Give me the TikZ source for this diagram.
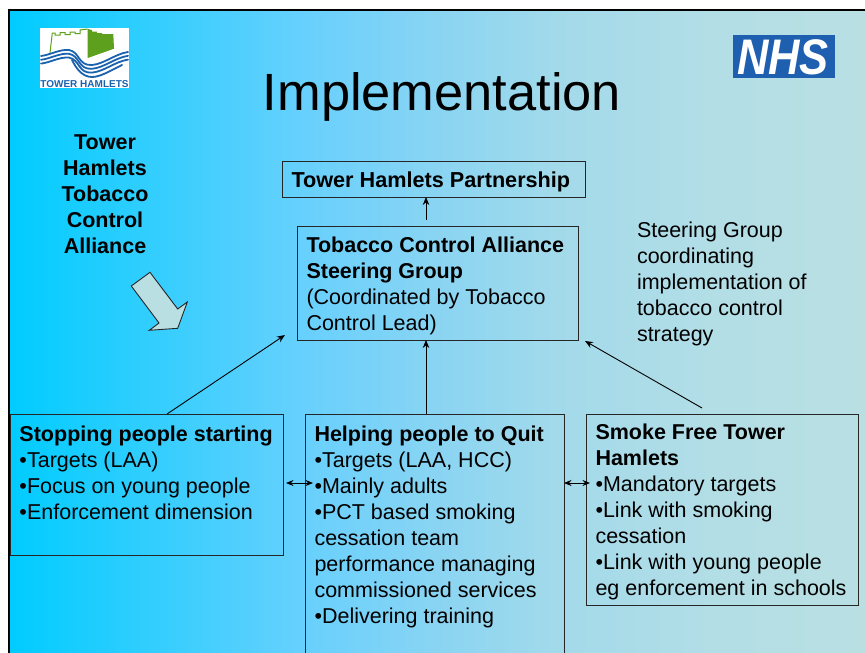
\documentclass[tikz,border=0pt]{standalone}
\usepackage{fontspec}
\setmainfont{Liberation Sans}
\usetikzlibrary{arrows.meta}
\definecolor{bgA}{HTML}{00CCFF}
\definecolor{bgB}{HTML}{66D0FD}
\definecolor{bgC}{HTML}{88D4F3}
\definecolor{bgD}{HTML}{A3DAEA}
\definecolor{bgE}{HTML}{B3DEE6}
\definecolor{bgright}{HTML}{B9DFE3}
\definecolor{nhsblue}{HTML}{1F5FB0}
\definecolor{thblue}{HTML}{1A62AE}
\definecolor{thgreen}{HTML}{5CA01E}
\pgfdeclarehorizontalshading{slidebg}{100bp}{color(0bp)=(bgA); color(25bp)=(bgA); color(42bp)=(bgB); color(49.6bp)=(bgC); color(57.2bp)=(bgD); color(66.5bp)=(bgE); color(75bp)=(bgright); color(100bp)=(bgright)}
\newcommand{\boxtxt}[4]{\parbox[c][#2pt][t]{#1pt}{\rule{0pt}{#3pt}#4}}
\tikzset{
  x=1pt,y=-1pt,
  panel/.style={draw=black!85,line width=0.9pt,anchor=north west,inner xsep=9.5pt,inner ysep=0pt,outer sep=0pt,
    font=\fontsize{21.5}{26}\selectfont},
  plain/.style={inner sep=0pt,outer sep=0pt,font=\fontsize{21.5}{26}\selectfont},
  arr/.style={line width=0.9pt,-{Stealth[length=8pt,width=6.5pt]}},
  dblarr/.style={line width=0.9pt,{Stealth[length=7.5pt,width=6pt]}-{Stealth[length=7.5pt,width=6pt]}},
  wave/.style={draw=thblue,line width=1.8pt,line cap=round},
}
\begin{document}
\begin{tikzpicture}
\useasboundingbox (0,0) rectangle (865,653);
\clip (0,0) rectangle (865,653);
\fill[white] (0,0) rectangle (865,653);
\shade[shading=slidebg] (9,10) rectangle (865,653);
\draw[black,line width=2pt] (9,665) -- (9,10) -- (875,10);

% logos
\fill[white] (40,28) rectangle (129,88);
\fill[thgreen] (87.7,29) -- (92,30) -- (92,31.5) -- (97,31.5) -- (97,33) -- (102,33) -- (102,34) -- (113.3,34) -- (114,48.7) -- (87.7,58) -- cycle;
\draw[thgreen,line width=1pt] (50,53) -- (52.3,33) -- (55,33) -- (55,35) -- (60,35) -- (60,32.5) -- (65,32.5) -- (65,34.5) -- (70,34.5) -- (70,32) -- (75,32) -- (75,33.5) -- (80,33.5) -- (80,30) -- (87.7,29);
\foreach \d in {0,3.8,7.6}{
  \draw[wave] (41,{56+\d}) .. controls (50,{55+\d}) and (60,{49+\d}) .. (69,{50+\d}) .. controls (80,{52+\d}) and (78,{66+\d}) .. (92,{65+\d}) .. controls (104,{64+\d}) and (115,{54+\d}) .. (128,{52+\d});
}
\draw[wave] (72,60) .. controls (76,68) and (82,77) .. (92,77) .. controls (100,77) and (110,71) .. (122,65);
\node[inner sep=0pt,text=thblue,font=\fontsize{10}{10}\bfseries\selectfont,anchor=base] (thlogo) at (84.5,87.3) {TOWER HAMLETS};
\node[fill=nhsblue,minimum width=102pt,minimum height=43pt,inner sep=0pt,anchor=north west] (nhsbg) at (733,35) {};
\node[inner sep=0pt,text=white,font=\fontsize{50}{50}\bfseries\itshape\selectfont,xscale=0.87,anchor=base] (nhs) at (783,74.5) {NHS};

% title
\node[inner sep=0pt,font=\fontsize{52.4}{60}\selectfont,anchor=base] (title) at (442,110) {Implementation};

% side texts
\node[plain,align=center,anchor=north] (alliance) at (105,135) {\bfseries Tower\\\bfseries Hamlets\\\bfseries Tobacco\\\bfseries Control\\\bfseries Alliance};
\node[plain,align=left,anchor=north west] (steernote) at (637,222) {Steering Group\\coordinating\\implementation of\\tobacco control\\strategy};

% block arrow
\draw[fill=bgright,draw=black!85,line width=0.9pt] (131.3,286) -- (150,272.3) -- (177.7,309) -- (187.3,302) -- (177.7,328.3) -- (149.3,330.3) -- (159,323) -- cycle;

% boxes
\node[panel] (thp) at (282,161) {\boxtxt{284}{36}{26}{\bfseries\fontsize{21.65}{26}\selectfont Tower Hamlets Partnership}};
\node[panel] (steer) at (297,226) {\boxtxt{262}{114}{26}{\textbf{Tobacco Control Alliance}\\\textbf{Steering Group}\\(Coordinated by Tobacco\\Control Lead)}};
\node[panel] (stop) at (10,414) {\boxtxt{254}{141}{27.5}{\textbf{Stopping people starting}\\•Targets (LAA)\\•Focus on young people\\•Enforcement dimension}};
\node[panel] (help) at (305,414) {\boxtxt{240}{260}{27}{\textbf{Helping people to Quit}\\•Targets (LAA, HCC)\\•Mainly adults\\•PCT based smoking\\cessation team\\performance managing\\commissioned services\\•Delivering training}};
\node[panel] (free) at (586,414) {\boxtxt{253}{191}{25.5}{\textbf{Smoke Free Tower}\\\textbf{Hamlets}\\•Mandatory targets\\•Link with smoking\\cessation\\•Link with young people\\eg enforcement in schools}};

% connector ends
\coordinate (thpIn) at (426,197);
\coordinate (steerTop) at (426,220);
\coordinate (steerBot) at (426,340);
\coordinate (helpTop) at (426,414);
\coordinate (stopOut) at (167,414);
\coordinate (steerL) at (285,335);
\coordinate (freeOut) at (702,408);
\coordinate (steerR) at (585,341);
\coordinate (stopR) at (286,483);
\coordinate (helpL) at (313,483);
\coordinate (helpR) at (564,483);
\coordinate (freeL) at (590,483);

\draw[arr] (steerTop) -- (thpIn);
\draw[arr] (helpTop) -- (steerBot);
\draw[arr] (stopOut) -- (steerL);
\draw[arr] (freeOut) -- (steerR);
\draw[dblarr] (stopR) -- (helpL);
\draw[dblarr] (helpR) -- (freeL);
\end{tikzpicture}
\end{document}
